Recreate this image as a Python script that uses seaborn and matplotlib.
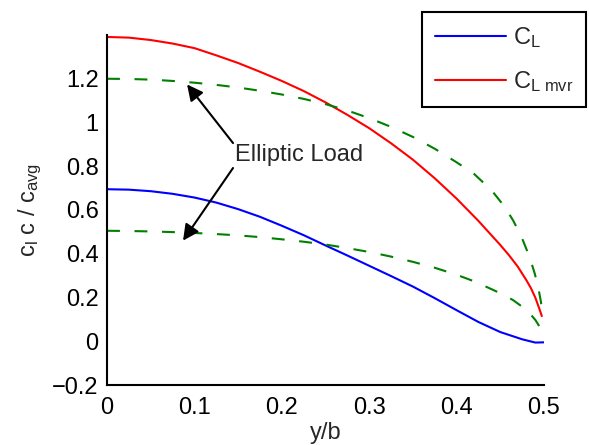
import numpy as np
import pandas as pd
import matplotlib
matplotlib.use("Agg")
import matplotlib.pyplot as plt
import seaborn as sns

# Spanwise load distributions, c_l c / c_avg versus y/b
y_cl = [0.0, 0.025, 0.05, 0.075, 0.1, 0.125, 0.15, 0.175, 0.2, 0.225, 0.25,
        0.275, 0.3, 0.325, 0.35, 0.375, 0.4, 0.425, 0.45, 0.475, 0.49, 0.5]
cl = [0.695, 0.693, 0.686, 0.674, 0.657, 0.634, 0.604, 0.569, 0.528, 0.485,
      0.438, 0.392, 0.345, 0.298, 0.25, 0.197, 0.142, 0.088, 0.042, 0.009,
      -0.006, -0.005]

y_mvr = [0.0, 0.025, 0.05, 0.075, 0.1, 0.125, 0.15, 0.175, 0.2, 0.225, 0.25,
         0.275, 0.3, 0.325, 0.35, 0.375, 0.4, 0.425, 0.45, 0.46, 0.47, 0.48,
         0.485, 0.49, 0.495, 0.4975]
cl_mvr = [1.391, 1.388, 1.377, 1.361, 1.34, 1.307, 1.272, 1.232, 1.19, 1.144,
          1.092, 1.035, 0.974, 0.905, 0.83, 0.745, 0.652, 0.55, 0.44, 0.393,
          0.341, 0.278, 0.243, 0.2, 0.145, 0.115]

y_ell_hi = [0.0, 0.025, 0.05, 0.075, 0.1, 0.125, 0.15, 0.175, 0.2, 0.225,
            0.25, 0.275, 0.3, 0.325, 0.35, 0.375, 0.4, 0.42, 0.44, 0.455,
            0.465, 0.475, 0.483, 0.489, 0.493, 0.4965, 0.498]
ell_hi = [1.2, 1.199, 1.196, 1.19, 1.182, 1.172, 1.16, 1.145, 1.128, 1.108,
          1.084, 1.055, 1.02, 0.98, 0.934, 0.88, 0.818, 0.765, 0.69, 0.615,
          0.55, 0.47, 0.39, 0.315, 0.255, 0.18, 0.13]

y_ell_lo = [0.0, 0.025, 0.05, 0.075, 0.1, 0.125, 0.15, 0.175, 0.2, 0.225,
            0.25, 0.275, 0.3, 0.325, 0.35, 0.375, 0.4, 0.42, 0.44, 0.455,
            0.465, 0.475, 0.483, 0.49, 0.496]
ell_lo = [0.505, 0.504, 0.502, 0.499, 0.495, 0.49, 0.484, 0.476, 0.466, 0.455,
          0.442, 0.426, 0.408, 0.387, 0.363, 0.336, 0.304, 0.274, 0.238, 0.21,
          0.187, 0.158, 0.13, 0.098, 0.06]

x_ticks = [0, 0.1, 0.2, 0.3, 0.4, 0.5]
x_ticklabels = ["0", "0.1", "0.2", "0.3", "0.4", "0.5"]
y_ticks = [-0.2, 0, 0.2, 0.4, 0.6, 0.8, 1.0, 1.2]
y_ticklabels = ["\u22120.2", "0", "0.2", "0.4", "0.6", "0.8", "1", "1.2"]

sns.set_style("white")
plt.rcParams["font.family"] = ["Liberation Sans", "DejaVu Sans"]
plt.rcParams["mathtext.fontset"] = "custom"
plt.rcParams["mathtext.rm"] = "Liberation Sans"
plt.rcParams["mathtext.it"] = "Liberation Sans"

FS = 17
fig = plt.figure(figsize=(5.89, 4.45), dpi=100)
ax = fig.add_axes([107 / 589, 60 / 445, 437 / 589, 350 / 445])

lw = 1.5
sns.lineplot(x=y_cl, y=cl, ax=ax, color=(0, 0, 1), lw=lw, sort=False,
             estimator=None, label=r"$\mathregular{C_L}$")
sns.lineplot(x=y_mvr, y=cl_mvr, ax=ax, color=(1, 0, 0), lw=lw, sort=False,
             estimator=None, label=r"$\mathregular{C_{L\ mvr}}$")
for xs, ys in ((y_ell_hi, ell_hi), (y_ell_lo, ell_lo)):
    ax.plot(xs, ys, color=(0, 0.5, 0), lw=lw, dashes=(6.2, 7))

ax.set_xlim(0, 0.5)
ax.set_ylim(-0.2, 1.4)
ax.set_xticks(x_ticks)
ax.set_xticklabels(x_ticklabels)
ax.set_yticks(y_ticks)
ax.set_yticklabels(y_ticklabels)
ax.tick_params(direction="in", length=4, width=1.2, labelsize=FS,
               colors="black")
ax.tick_params(axis="x", pad=9)
ax.tick_params(axis="y", pad=6)
for side in ("top", "right"):
    ax.spines[side].set_visible(False)
for side in ("left", "bottom"):
    ax.spines[side].set_color("black")
    ax.spines[side].set_linewidth(1.5)

ax.set_xlabel("y/b", fontsize=FS, labelpad=2)
ax.set_ylabel(r"$\mathregular{c_l\ c\ /\ c_{avg}}$", fontsize=FS, labelpad=6)

# Annotation pointing at both elliptic reference curves
ax.text(0.1465, 0.851, "Elliptic Load", fontsize=FS, ha="left", va="center")
arrow = dict(arrowstyle="-|>", color="black", lw=1.5, mutation_scale=24,
             shrinkA=0, shrinkB=0)
ax.annotate("", xy=(0.0916, 1.174), xytext=(0.1442, 0.906), arrowprops=arrow)
ax.annotate("", xy=(0.087, 0.46), xytext=(0.1442, 0.792), arrowprops=arrow)

leg = ax.legend(loc="upper right", bbox_to_anchor=(586 / 589, 433 / 445),
                bbox_transform=fig.transFigure, borderaxespad=0,
                fontsize=FS, handlelength=3.0, handletextpad=0.3,
                labelspacing=0.8, borderpad=0.55, fancybox=False,
                framealpha=1)
leg.get_frame().set_edgecolor("black")
leg.get_frame().set_linewidth(1.5)

fig.savefig("out.png", dpi=100)
